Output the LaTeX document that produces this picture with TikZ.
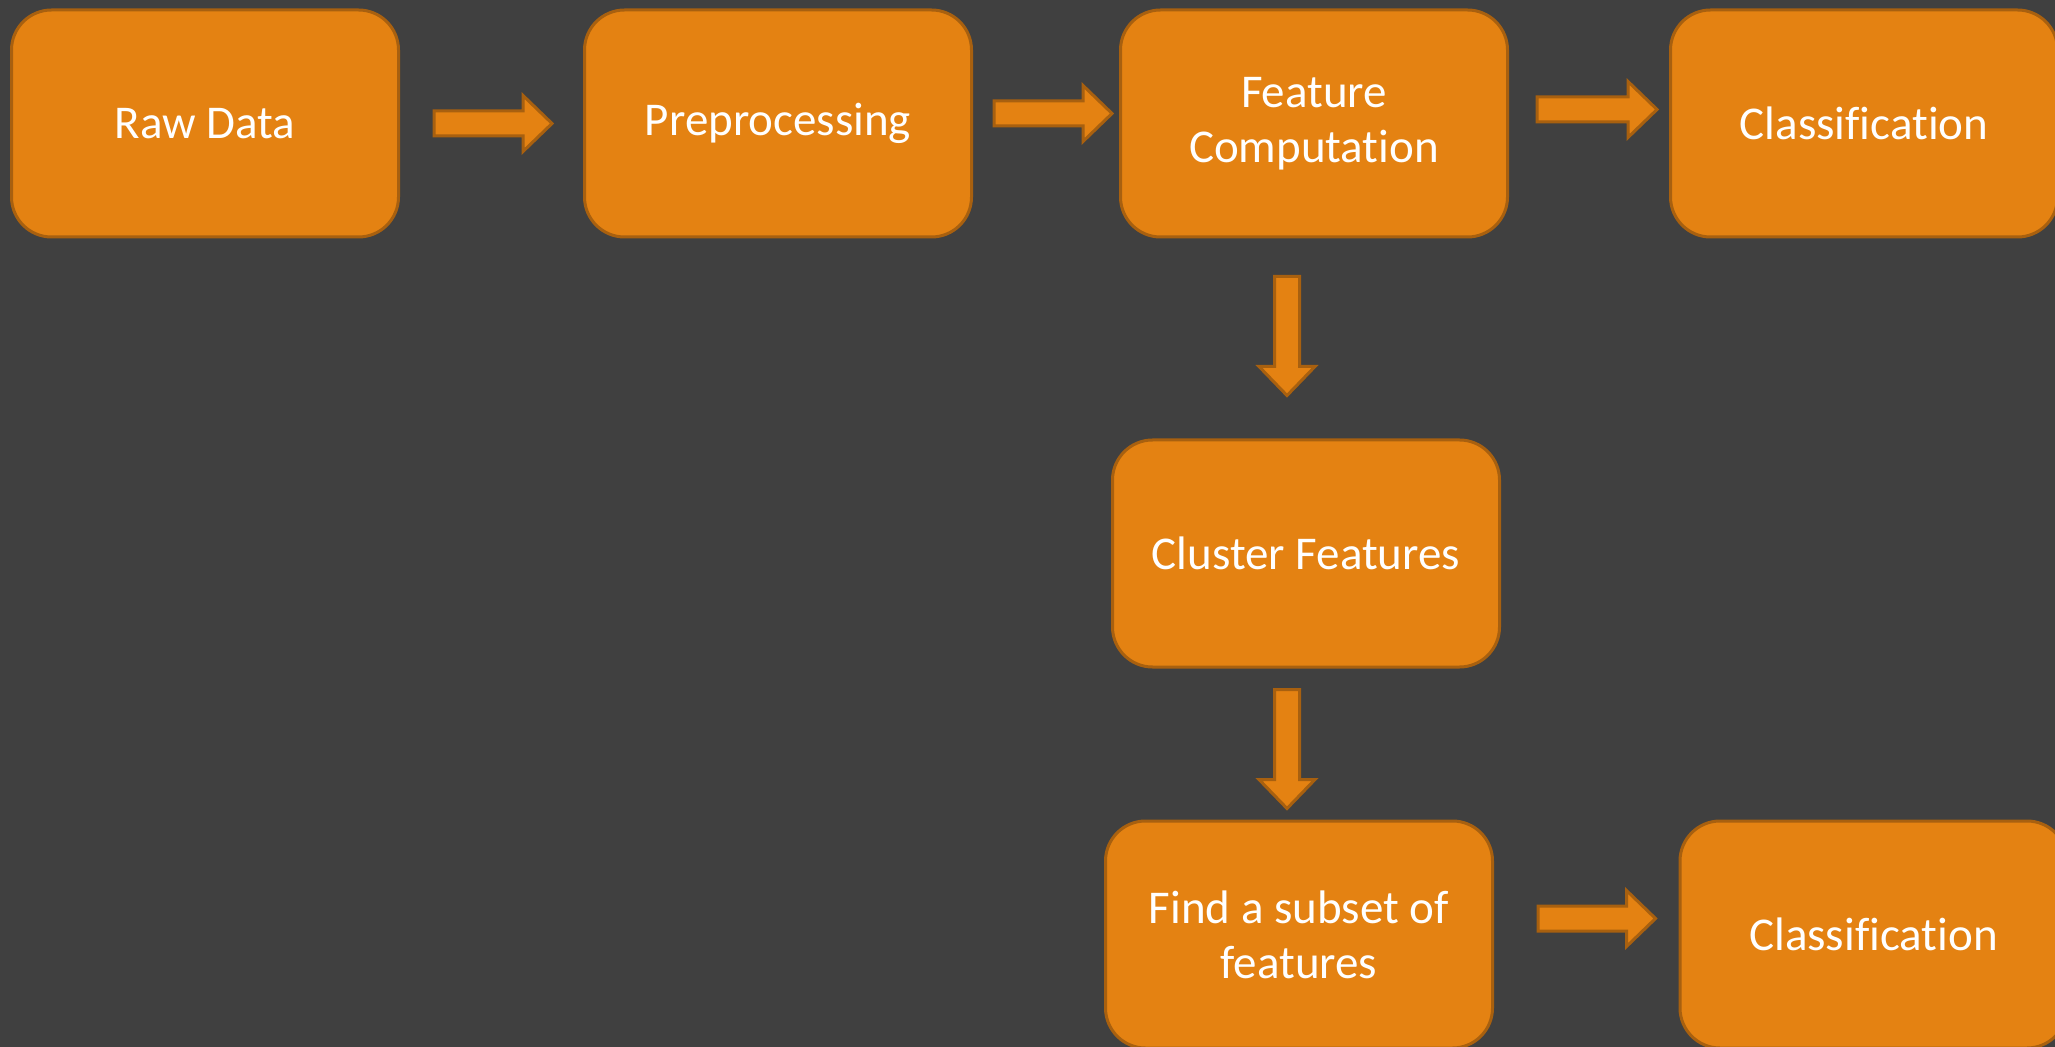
\documentclass[tikz,border=0pt]{standalone}
\usepackage{fontspec}
\setmainfont{Carlito}[Ligatures={NoCommon}]
\usetikzlibrary{calc}
\definecolor{bgc}{HTML}{404040}
\definecolor{boxfill}{HTML}{E48212}
\definecolor{boxline}{HTML}{A8600F}
\tikzset{
  stagebox/.style={rectangle, rounded corners=20pt, draw=boxline, fill=boxfill,
    line width=1.5pt, minimum width=193.5pt, minimum height=113.5pt,
    text=white, align=center, inner sep=0pt,
    font=\fontsize{23.5pt}{27.5pt}\selectfont},
  blockarr/.style={draw=boxline, fill=boxfill, line width=1.5pt, line join=miter}
}
\newcommand{\hblockarrow}[2]{%
  \draw[blockarr] ($(#1)+(0,-12.5)$) -- ($(#2)+(-29,-12.5)$) -- ($(#2)+(-29,-28)$) -- (#2)
    -- ($(#2)+(-29,28)$) -- ($(#2)+(-29,12.5)$) -- ($(#1)+(0,12.5)$) -- cycle;}
\newcommand{\vblockarrow}[2]{%
  \draw[blockarr] ($(#1)+(-12.5,0)$) -- ($(#2)+(-12.5,-29)$) -- ($(#2)+(-28,-29)$) -- (#2)
    -- ($(#2)+(28,-29)$) -- ($(#2)+(12.5,-29)$) -- ($(#1)+(12.5,0)$) -- cycle;}
\begin{document}
\begin{tikzpicture}[x=0.5pt, y=-0.5pt]
\fill[bgc] (0,0) rectangle (2055,1047);
\useasboundingbox (0,0) rectangle (2055,1047);

\node[stagebox] (raw)  at (205,123.5)  {Raw Data};
\node[stagebox] (pre)  at (778,123.5)  {Preprocessing};
\node[stagebox] (fc)   at (1314,123.5) {Feature\\Computation};
\node[stagebox] (cls1) at (1864,123.5) {Classification};
\node[stagebox] (cf)   at (1306,553.5) {Cluster Features};
\node[stagebox] (fs)   at (1299,934.5) {Find a subset of\\features};
\node[stagebox] (cls2) at (1873.5,934.5) {Classification};

\coordinate (a1s) at ($(raw.east)+(34,0)$);
\coordinate (a1e) at ($(pre.west)+(-31,0)$);
\coordinate (a2s) at ($(pre.east)+(21,-10)$);
\coordinate (a2e) at ($(fc.west)+(-7,-10)$);
\coordinate (a3s) at ($(fc.east)+(28,-14)$);
\coordinate (a3e) at ($(cls1.west)+(-12,-14)$);
\coordinate (d1s) at ($(fc.south)+(-27,38)$);
\coordinate (d1e) at ($(cf.north)+(-19,-43)$);
\coordinate (d2s) at ($(cf.south)+(-19,21)$);
\coordinate (d2e) at ($(fs.north)+(-12,-11)$);
\coordinate (b1s) at ($(fs.east)+(44,-16)$);
\coordinate (b1e) at ($(cls2.west)+(-23,-16)$);

\hblockarrow{a1s}{a1e}
\hblockarrow{a2s}{a2e}
\hblockarrow{a3s}{a3e}
\vblockarrow{d1s}{d1e}
\vblockarrow{d2s}{d2e}
\hblockarrow{b1s}{b1e}
\end{tikzpicture}
\end{document}
